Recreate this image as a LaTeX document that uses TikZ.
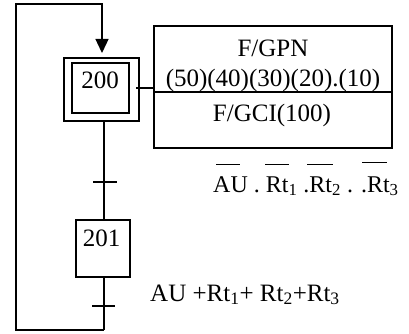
\documentclass[tikz,border=0pt]{standalone}
\usepackage{fontspec}
\setmainfont{Liberation Serif}
\usetikzlibrary{arrows.meta}
\begin{document}
\begin{tikzpicture}[x=1pt,y=-1pt,
  ln/.style={line width=1.3pt},
  boxtxt/.style={font=\fontsize{25}{30}\selectfont, inner sep=0pt, anchor=base},
  trtxt/.style={font=\fontsize{#1}{28}\selectfont, inner sep=0pt, anchor=base west},
  stepbox/.style={draw, line width=1.3pt, minimum width=#1, inner sep=0pt},
  trbar/.style={line width=1.3pt}]
\useasboundingbox (0,0) rectangle (409,334);
% step 200
\node[stepbox=75pt, minimum height=63pt] (s200o) at (101.5,89.5) {};
\node[stepbox=57pt, minimum height=50pt] (s200i) at (100.5,88) {};
\node[boxtxt] (t200) at (100,89) {200};
% action box
\node[draw, line width=1.3pt, minimum width=238pt, minimum height=122pt, inner sep=0pt] (act) at (273,87) {};
\coordinate (divL) at (154,92);
\coordinate (divR) at (392,92);
\draw[ln] (divL) -- (divR);
\node[boxtxt] (a1) at (273,56.5) {F/GPN};
\node[boxtxt] (a2) at (273,86.5) {(50)(40)(30)(20).(10)};
\node[boxtxt] (a3) at (272,121.5) {F/GCI(100)};
\coordinate (cs) at (136,88);
\draw[ln] (cs) -- (act.west |- cs);
% step 201
\node[stepbox=54pt, minimum height=57pt] (s201) at (103,248.5) {};
\node[boxtxt] (t201) at (101.5,246) {201};
% links
\coordinate (top) at (104,121);
\draw[ln] (104,121) -- (104,220);
\draw[ln] (104,277) -- (104,330) coordinate (bot);
\coordinate (tr1L) at (93,182); \coordinate (tr1R) at (117,182);
\coordinate (tr2L) at (92,306); \coordinate (tr2R) at (115,306);
\draw[trbar] (tr1L) -- (tr1R);
\draw[trbar] (tr2L) -- (tr2R);
\coordinate (arrtip) at (102,53);
\draw[ln, -{Triangle[width=13pt,length=14pt]}] (bot) -- (16,330) -- (16,4) -- (102,4) -- (arrtip);
% transition labels
\node[trtxt=24] (c1) at (213,192) {AU . Rt\textsubscript{1} .Rt\textsubscript{2} . .Rt\textsubscript{3}};
\draw[line width=1pt] (216,164) -- (240,164);
\draw[line width=1pt] (265,164) -- (289,164);
\draw[line width=1pt] (307,164) -- (333,164);
\draw[line width=1pt] (362,162) -- (387,162);
\node[trtxt=25] (c2) at (150,301) {AU +Rt\textsubscript{1}+ Rt\textsubscript{2}+Rt\textsubscript{3}};
\end{tikzpicture}
\end{document}
